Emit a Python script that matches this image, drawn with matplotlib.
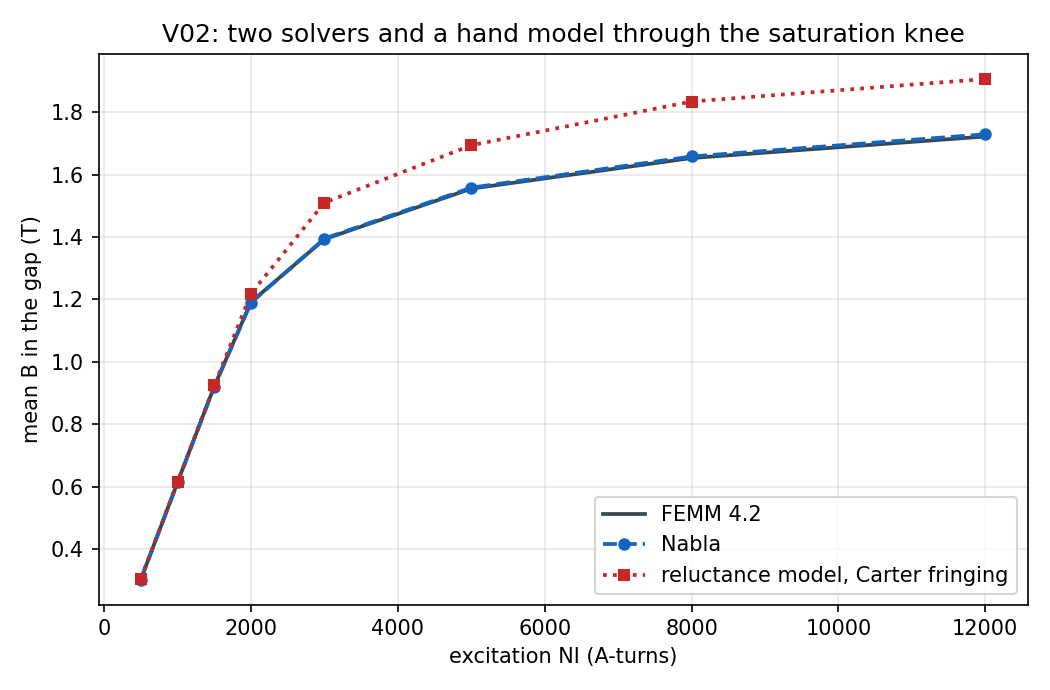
import matplotlib
matplotlib.use("Agg")
import matplotlib.pyplot as plt

# excitation (A-turns) and mean gap flux density (T)
ni = [500, 1000, 1500, 2000, 3000, 5000, 8000, 12000]
b_femm = [0.304, 0.615, 0.922, 1.192, 1.393, 1.555, 1.653, 1.722]
b_nabla = [0.303, 0.614, 0.921, 1.190, 1.395, 1.558, 1.658, 1.729]
b_reluct = [0.306, 0.616, 0.925, 1.219, 1.510, 1.694, 1.834, 1.906]

fig, ax = plt.subplots(figsize=(7, 4.6), dpi=150)

ax.plot(ni, b_femm, color="#37474f", lw=1.8, label="FEMM 4.2")
ax.plot(ni, b_nabla, color="#1565c0", lw=1.8, ls="--", marker="o", ms=5,
        label="Nabla")
ax.plot(ni, b_reluct, color="#c62828", lw=1.8, ls=":", marker="s", ms=5,
        label="reluctance model, Carter fringing")

ax.set_xlabel("excitation NI (A-turns)")
ax.set_ylabel("mean B in the gap (T)")
ax.set_title("V02: two solvers and a hand model through the saturation knee")
ax.grid(True, alpha=0.3)
ax.legend(loc="lower right")

fig.tight_layout()
fig.savefig("out.png")
